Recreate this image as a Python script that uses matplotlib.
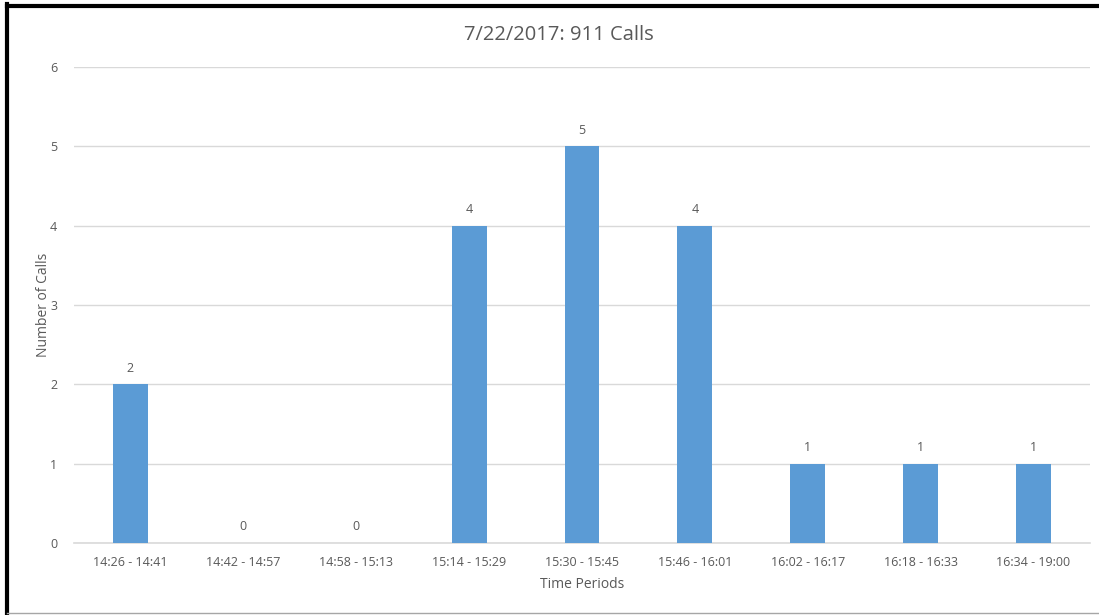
import matplotlib.pyplot as plt
from matplotlib.lines import Line2D

periods = ["14:26 - 14:41", "14:42 - 14:57", "14:58 - 15:13", "15:14 - 15:29",
           "15:30 - 15:45", "15:46 - 16:01", "16:02 - 16:17", "16:18 - 16:33",
           "16:34 - 19:00"]
calls = [2, 0, 0, 4, 5, 4, 1, 1, 1]

grey = "#595959"
bar_color = "#5B9BD5"
grid_color = "#D9D9D9"

plt.rcParams['font.family'] = ['Open Sans', 'DejaVu Sans']

fig = plt.figure(figsize=(10.99, 6.15), dpi=100)
ax = fig.add_axes([74 / 1099, 1 - 543 / 615, (1090 - 74) / 1099, (543 - 67) / 615])

x = range(len(periods))
bars = ax.bar(x, calls, width=0.31, color=bar_color, zorder=3)
for xi, v in zip(x, calls):
    ax.text(xi, v + 0.12, str(v), ha='center', va='bottom', fontsize=9, color=grey)

ax.set_xlim(-0.5, len(periods) - 0.5)
ax.set_ylim(0, 6)
ax.set_yticks(range(7))
ax.set_xticks(list(x))
ax.set_xticklabels(periods)
ax.tick_params(axis='both', length=0, labelsize=9, labelcolor=grey)
ax.tick_params(axis='x', pad=9)
ax.tick_params(axis='y', pad=12)
ax.grid(axis='y', color=grid_color, linewidth=1, zorder=0)
for s in ['top', 'right', 'left']:
    ax.spines[s].set_visible(False)
ax.spines['bottom'].set_color(grid_color)
ax.spines['bottom'].set_linewidth(1.2)

fig.text(559 / 1099, 1 - 35 / 615, "7/22/2017: 911 Calls", fontsize=14.5, color=grey,
         ha='center', va='center')
ax.set_xlabel("Time Periods", fontsize=10, color=grey, labelpad=6)
ax.set_ylabel("Number of Calls", fontsize=10, color=grey)
ax.yaxis.set_label_coords((51 - 74) / 1016, 0.5)

# outer frame: thick black on left/top, thin grey at bottom
fig.add_artist(Line2D([7 / 1099, 7 / 1099], [0, 1 - 4 / 615], color='black', linewidth=3))
fig.add_artist(Line2D([7 / 1099, 1], [1 - 5.5 / 615, 1 - 5.5 / 615], color='black', linewidth=3))
fig.add_artist(Line2D([7 / 1099, 1], [2 / 615, 2 / 615], color='#A6A6A6', linewidth=1))

fig.savefig("out.png", dpi=100)
